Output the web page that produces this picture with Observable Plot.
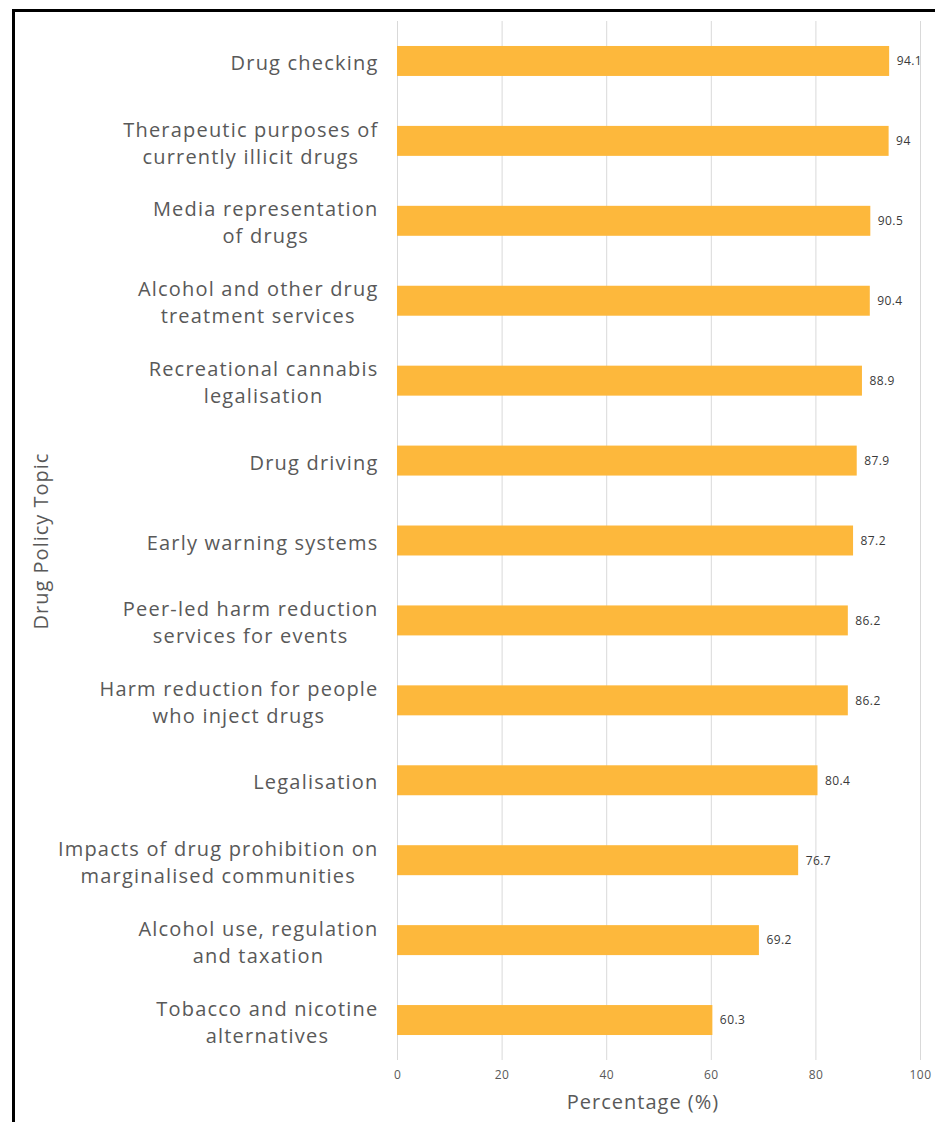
<!DOCTYPE html>
<html><head><meta charset="utf-8">
<script src="https://cdn.jsdelivr.net/npm/d3@7"></script>
<script src="https://cdn.jsdelivr.net/npm/@observablehq/plot@0.6"></script>
<style>
body{margin:0;background:#fff;overflow:hidden;width:935px;height:1122px}
#frame{position:absolute;left:12px;top:9px;width:1000px;height:1200px;border-left:3px solid #000;border-top:3px solid #000;box-sizing:border-box}
#chart{position:absolute;left:0;top:0}
</style></head><body><div id="frame"></div><div id="chart"></div>
<script>
const topics = [
  "Drug checking",
  "Therapeutic purposes of\ncurrently illicit drugs",
  "Media representation\nof drugs",
  "Alcohol and other drug\ntreatment services",
  "Recreational cannabis\nlegalisation",
  "Drug driving",
  "Early warning systems",
  "Peer-led harm reduction\nservices for events",
  "Harm reduction for people\nwho inject drugs",
  "Legalisation",
  "Impacts of drug prohibition on\nmarginalised communities",
  "Alcohol use, regulation\nand taxation",
  "Tobacco and nicotine\nalternatives"
];
const percentages = [94.1, 94, 90.5, 90.4, 88.9, 87.9, 87.2, 86.2, 86.2, 80.4, 76.7, 69.2, 60.3];
const xTicks = [0, 20, 40, 60, 80, 100];
const xTitle = "Percentage (%)";
const yTitle = "Drug Policy Topic";

const data = topics.map((t, i) => ({topic: t, value: percentages[i]}));
const font = "'Open Sans', Lato, sans-serif";
const grey = "#595959";

const chart = Plot.plot({
  width: 935, height: 1122,
  marginTop: 21, marginBottom: 62, marginLeft: 397, marginRight: 15,
  style: {fontFamily: font, background: "transparent", letterSpacing: "0.4px"},
  x: {domain: [0, 100], ticks: xTicks},
  y: {domain: topics, paddingInner: 0.625, paddingOuter: 0.3125, round: false},
  marks: [
    Plot.gridX(xTicks, {stroke: "#d9d9d9", strokeOpacity: 1, strokeWidth: 1}),
    Plot.barX(data, {x: "value", y: "topic", fill: "#FDB83C"}),
    Plot.text(data, {x: "value", y: "topic", text: d => String(d.value), textAnchor: "start", dx: 7, fontSize: 12, fill: "#3a3a3a"}),
    Plot.axisX(xTicks, {tickSize: 0, tickPadding: 10, fontSize: 12, fill: grey, label: null}),
    Plot.axisY({tickSize: 0, tickPadding: 19, fontSize: 20, fill: grey, label: null, lineHeight: 1.35}),
    Plot.text([xTitle], {frameAnchor: "bottom", dy: 48, dx: -16, fontSize: 20, fill: grey, className: "bigtitle"}),
    Plot.text([yTitle], {frameAnchor: "left", dx: -356, rotate: -90, textAnchor: "middle", fontSize: 20, fill: grey, className: "bigtitle"})
  ]
});
document.getElementById("chart").appendChild(chart);

// Wider tracking on the large labels, like the reference
chart.querySelectorAll('g[aria-label="y-axis tick label"] text').forEach(t => t.style.letterSpacing = "1.2px");
chart.querySelectorAll('g.bigtitle text').forEach(t => t.style.letterSpacing = "1px");

// Centre the lines of each multi-line y tick label within its right-aligned block
chart.querySelectorAll('g[aria-label="y-axis tick label"] text').forEach(t => {
  const spans = t.querySelectorAll("tspan");
  if (spans.length < 2) return;
  let maxW = 0;
  spans.forEach(s => { maxW = Math.max(maxW, s.getComputedTextLength()); });
  t.setAttribute("text-anchor", "middle");
  spans.forEach(s => s.setAttribute("x", -maxW / 2));
});
</script>
</body></html>
